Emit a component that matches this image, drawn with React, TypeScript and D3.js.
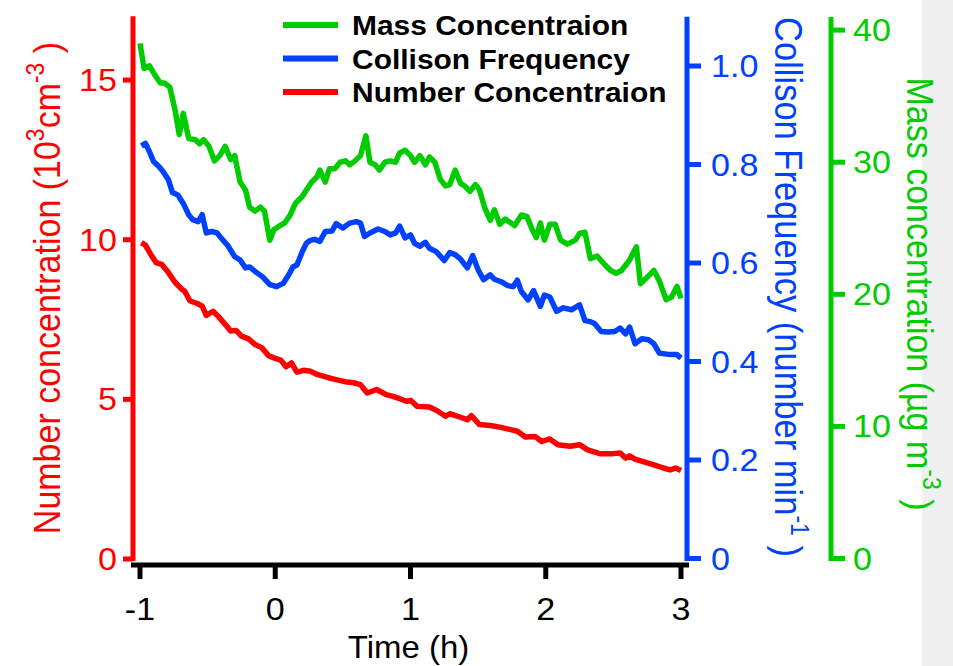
import React from "react";
import * as d3 from "d3";

// Mass concentration (µg m-3)
const massTime = [-1.00,-0.97,-0.93,-0.89,-0.85,-0.82,-0.78,-0.74,-0.71,-0.68,
-0.64,-0.59,-0.56,-0.53,-0.49,-0.45,-0.41,-0.37,-0.33,-0.30,
-0.26,-0.22,-0.19,-0.15,-0.11,-0.08,-0.04,-0.01,0.02,0.07,
0.11,0.15,0.20,0.23,0.27,0.31,0.33,0.37,0.40,0.44,
0.48,0.52,0.55,0.59,0.63,0.67,0.70,0.74,0.77,0.81,
0.85,0.89,0.92,0.96,1.00,1.03,1.07,1.11,1.14,1.18,
1.22,1.26,1.29,1.33,1.37,1.40,1.44,1.48,1.51,1.55,
1.59,1.62,1.66,1.70,1.77,1.82,1.86,1.90,1.93,1.96,
1.99,2.03,2.07,2.11,2.16,2.22,2.25,2.29,2.33,2.38,
2.44,2.48,2.52,2.56,2.62,2.67,2.70,2.75,2.80,2.84,
2.89,2.93,2.97,3.00];
const massValue = [39.0,37.1,37.3,36.6,36.0,36.0,35.7,33.9,32.1,33.7,
31.8,31.7,31.4,31.7,31.2,30.1,30.5,31.2,30.2,30.5,
28.5,27.9,26.6,26.3,26.6,26.3,24.1,24.9,25.1,25.4,
26.0,26.9,27.4,27.9,28.5,28.9,29.4,28.5,29.5,29.5,
30.0,30.1,29.8,30.1,30.5,32.0,30.0,29.8,29.4,30.0,
30.1,30.0,30.7,30.9,30.5,30.0,30.5,29.8,30.4,30.0,
28.7,28.2,28.3,29.4,28.4,28.2,27.8,28.3,27.9,26.5,
25.6,26.4,25.3,25.7,25.2,26.0,25.9,24.9,24.3,25.4,
24.1,25.3,25.3,24.1,23.8,24.1,24.6,24.7,22.7,22.9,
22.2,21.8,21.6,21.8,22.6,23.6,20.8,21.3,21.8,21.0,
19.6,19.8,20.6,19.7];

// Collision frequency (number min-1)
const collTime = [-0.99,-0.96,-0.93,-0.90,-0.86,-0.83,-0.79,-0.76,-0.72,-0.68,
-0.64,-0.61,-0.57,-0.54,-0.51,-0.47,-0.43,-0.40,-0.35,-0.30,
-0.26,-0.22,-0.19,-0.14,-0.09,-0.04,0.01,0.06,0.10,0.13,
0.16,0.20,0.23,0.26,0.29,0.33,0.37,0.42,0.45,0.50,
0.55,0.60,0.63,0.66,0.70,0.76,0.81,0.85,0.89,0.92,
0.96,1.00,1.03,1.07,1.11,1.14,1.19,1.25,1.29,1.33,
1.37,1.42,1.46,1.50,1.54,1.59,1.62,1.67,1.72,1.76,
1.79,1.82,1.87,1.91,1.96,1.99,2.03,2.08,2.13,2.19,
2.25,2.29,2.33,2.36,2.41,2.46,2.51,2.55,2.59,2.62,
2.66,2.71,2.76,2.80,2.84,2.92,2.97,3.00];
const collValue = [0.838,0.843,0.826,0.806,0.796,0.786,0.769,0.743,0.738,0.721,
0.698,0.688,0.684,0.698,0.661,0.664,0.661,0.651,0.635,0.613,
0.606,0.590,0.592,0.581,0.571,0.556,0.552,0.559,0.576,0.592,
0.596,0.623,0.640,0.646,0.648,0.644,0.664,0.665,0.680,0.671,
0.681,0.684,0.681,0.654,0.661,0.669,0.664,0.657,0.661,0.675,
0.651,0.657,0.640,0.634,0.642,0.630,0.623,0.605,0.621,0.617,
0.608,0.590,0.615,0.586,0.566,0.576,0.567,0.562,0.554,0.552,
0.565,0.542,0.525,0.544,0.512,0.535,0.531,0.502,0.509,0.505,
0.515,0.483,0.481,0.477,0.461,0.460,0.461,0.468,0.456,0.470,
0.436,0.446,0.444,0.436,0.417,0.414,0.414,0.407];

// Number concentration (10^3 cm-3)
const numTime = [-0.99,-0.96,-0.92,-0.88,-0.84,-0.79,-0.74,-0.69,-0.67,-0.63,
-0.58,-0.54,-0.51,-0.46,-0.42,-0.37,-0.33,-0.29,-0.25,-0.20,
-0.15,-0.10,-0.05,-0.01,0.04,0.08,0.12,0.16,0.21,0.26,
0.31,0.36,0.40,0.45,0.53,0.58,0.63,0.68,0.75,0.82,
0.87,0.92,0.97,1.00,1.05,1.14,1.19,1.26,1.29,1.35,
1.42,1.45,1.51,1.59,1.66,1.74,1.79,1.85,1.92,1.97,
2.03,2.09,2.18,2.25,2.31,2.40,2.50,2.55,2.59,2.62,
2.66,2.72,2.80,2.87,2.92,2.96,3.00];
const numValue = [9.91,9.83,9.54,9.28,9.23,8.97,8.66,8.45,8.39,8.08,
8.01,7.92,7.63,7.76,7.59,7.35,7.14,7.16,6.98,6.90,
6.72,6.62,6.37,6.30,6.23,6.02,6.14,5.85,5.91,5.88,
5.78,5.72,5.67,5.62,5.54,5.52,5.46,5.20,5.31,5.15,
5.09,5.02,4.94,4.97,4.78,4.76,4.66,4.47,4.55,4.47,
4.36,4.49,4.21,4.18,4.13,4.05,4.00,3.82,3.84,3.68,
3.76,3.58,3.53,3.58,3.42,3.30,3.30,3.32,3.16,3.23,
3.13,3.05,2.95,2.85,2.79,2.85,2.77];

const xTicks = [-1, 0, 1, 2, 3];
const numTicks = [0, 5, 10, 15];
const collTicks = [0, 0.2, 0.4, 0.6, 0.8, 1.0];
const massTicks = [0, 10, 20, 30, 40];
const legendLabels = ["Mass Concentraion", "Collison Frequency", "Number Concentraion"];

const RED = "#ff0000";
const BLUE = "#0040ff";
const GREEN = "#00cc00";
const FONT = "'Liberation Sans', Arial, Helvetica, sans-serif";

export default function App() {
  const W = 953, H = 666;
  const x = d3.scaleLinear().domain([-1, 3]).range([140, 681]);
  const yNum = d3.scaleLinear().domain([0, 17]).range([559, 16.2]);
  const yColl = d3.scaleLinear().domain([0, 1.1]).range([558.5, 16.75]);
  const yMass = d3.scaleLinear().domain([0, 41]).range([558.5, 16.9]);

  const mk = (ts: number[], vs: number[], y: d3.ScaleLinear<number, number>) =>
    d3.line<number>().x((_, i) => x(ts[i])).y((v) => y(v))(vs) || "";

  const redAxisX = 133, blueAxisX = 687, greenAxisX = 831, xAxisY = 565;
  const axisW = 5;
  const tickFs = 31;
  const sx = 1.1; // horizontal stretch of glyphs seen in the reference
  const titleFs = 34;
  const supFs = 23;
  const legendColors = [GREEN, BLUE, RED];
  const lw = 5.5;

  return (
    <svg width={W} height={H} style={{ position: "absolute", left: 0, top: 0, background: "#fff" }} fontFamily={FONT}>
      <rect x={922} y={0} width={31} height={H} fill="#f0f0f0" />

      {/* data lines */}
      <path d={mk(massTime, massValue, yMass)} fill="none" stroke={GREEN} strokeWidth={lw} strokeLinejoin="round" />
      <path d={mk(collTime, collValue, yColl)} fill="none" stroke={BLUE} strokeWidth={lw} strokeLinejoin="round" />
      <path d={mk(numTime, numValue, yNum)} fill="none" stroke={RED} strokeWidth={lw} strokeLinejoin="round" />

      {/* left red axis */}
      <line x1={redAxisX} x2={redAxisX} y1={yNum(17)} y2={561} stroke={RED} strokeWidth={axisW} />
      {numTicks.map((t) => (
        <g key={"n" + t}>
          <line x1={redAxisX - 10} x2={redAxisX} y1={yNum(t)} y2={yNum(t)} stroke={RED} strokeWidth={axisW} />
          <text transform={`translate(117,${yNum(t) + 11}) scale(${sx},1)`} textAnchor="end" fontSize={tickFs} fill={RED}>{t}</text>
        </g>
      ))}

      {/* blue axis */}
      <line x1={blueAxisX} x2={blueAxisX} y1={yColl(1.1)} y2={561} stroke={BLUE} strokeWidth={axisW} />
      {collTicks.map((t) => (
        <g key={"c" + t}>
          <line x1={blueAxisX} x2={blueAxisX + 14} y1={yColl(t)} y2={yColl(t)} stroke={BLUE} strokeWidth={axisW} />
          <text transform={`translate(711,${yColl(t) + 11}) scale(${sx},1)`} textAnchor="start" fontSize={tickFs} fill={BLUE}>{t === 0 ? "0" : d3.format(".1f")(t)}</text>
        </g>
      ))}

      {/* green axis */}
      <line x1={greenAxisX} x2={greenAxisX} y1={yMass(41)} y2={561} stroke={GREEN} strokeWidth={axisW} />
      {massTicks.map((t) => (
        <g key={"m" + t}>
          <line x1={greenAxisX} x2={greenAxisX + 14} y1={yMass(t)} y2={yMass(t)} stroke={GREEN} strokeWidth={axisW} />
          <text transform={`translate(853,${yMass(t) + 11}) scale(${sx},1)`} textAnchor="start" fontSize={tickFs} fill={GREEN}>{t}</text>
        </g>
      ))}

      {/* x axis */}
      <line x1={131} x2={689} y1={xAxisY} y2={xAxisY} stroke="#000" strokeWidth={axisW} />
      {xTicks.map((t) => (
        <g key={"x" + t}>
          <line x1={x(t)} x2={x(t)} y1={xAxisY} y2={xAxisY + 14} stroke="#000" strokeWidth={axisW} />
          <text transform={`translate(${x(t)},620) scale(${sx},1)`} textAnchor="middle" fontSize={tickFs} fill="#000">{t}</text>
        </g>
      ))}
      <text transform={`translate(${x(1) - 2},658) scale(1.03,1)`} textAnchor="middle" fontSize={32} fill="#000">Time (h)</text>

      {/* axis titles */}
      <text transform={`translate(60,288) rotate(-90) scale(1,${sx})`} textAnchor="middle" fontSize={titleFs} fill={RED}>
        Number concentration (10<tspan dy={-15} fontSize={supFs}>3</tspan><tspan dy={15}>cm</tspan><tspan dy={-15} fontSize={supFs}>-3</tspan><tspan dy={15}> )</tspan>
      </text>
      <text transform={`translate(775,287) rotate(90) scale(1,${sx})`} textAnchor="middle" fontSize={titleFs + 0.5} fill={BLUE}>
        Collison Frequency (number min<tspan dy={-15} fontSize={supFs}>-1</tspan><tspan dy={15}> )</tspan>
      </text>
      <text transform={`translate(907,294) rotate(90) scale(1,${sx})`} textAnchor="middle" fontSize={titleFs} fill={GREEN}>
        Mass concentration (µg m<tspan dy={-15} fontSize={supFs}>-3</tspan><tspan dy={15}> )</tspan>
      </text>

      {/* legend */}
      {legendLabels.map((lab, i) => (
        <g key={lab}>
          <line x1={283} x2={338} y1={25 + i * 33.5} y2={25 + i * 33.5} stroke={legendColors[i]} strokeWidth={6} />
          <text transform={`translate(352,${35 + i * 33.5}) scale(1.07,1)`} fontSize={28} fontWeight="bold" fill="#000">{lab}</text>
        </g>
      ))}
    </svg>
  );
}
